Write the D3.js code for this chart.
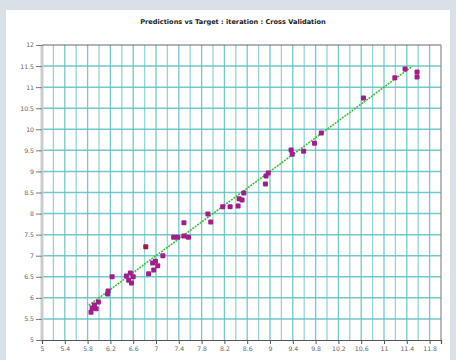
<!DOCTYPE html>
<html>
<head>
<meta charset="utf-8">
<script src="https://cdn.jsdelivr.net/npm/d3@7"></script>
<style>
  html, body { margin: 0; padding: 0; background: #d9e1e8; }
  svg { display: block; }
</style>
</head>
<body>
<svg id="chart" width="456" height="360"></svg>
<script>
// Cross-validation predictions against target values
const targets = [5.86, 5.88, 5.92, 5.99, 5.95, 6.15, 6.16, 6.23, 6.52, 6.55, 6.60, 6.57, 6.48,
  6.82, 6.87, 6.96, 6.94, 6.99, 7.03, 7.12, 7.31, 7.38, 7.49, 7.49, 7.57, 7.91, 7.96,
  8.17, 8.30, 8.44, 8.46, 8.54, 8.51, 8.93, 8.97, 8.92, 9.37, 9.39, 9.59, 9.78, 9.90,
  10.64, 11.19, 11.37, 11.58, 11.58];
const predictions = [5.66, 5.76, 5.83, 5.90, 5.74, 6.09, 6.16, 6.50, 6.42, 6.59, 6.50, 6.35, 6.52,
  7.21, 6.57, 6.66, 6.83, 6.87, 6.76, 7.00, 7.44, 7.44, 7.78, 7.47, 7.44, 7.99, 7.80,
  8.16, 8.16, 8.18, 8.35, 8.49, 8.32, 8.89, 8.96, 8.70, 9.51, 9.41, 9.48, 9.67, 9.91,
  10.74, 11.22, 11.43, 11.36, 11.24];
// index of the highlighted sample
const highlighted = [13];
// ideal fit line (prediction = target)
const fitX = [5.82, 11.5];
const fitY = [5.82, 11.5];

const xTicks = [5, 5.4, 5.8, 6.2, 6.6, 7, 7.4, 7.8, 8.2, 8.6, 9, 9.4, 9.8, 10.2, 10.6, 11, 11.4, 11.8];
const yTicks = [5, 5.5, 6, 6.5, 7, 7.5, 8, 8.5, 9, 9.5, 10, 10.5, 11, 11.5, 12];
const xGrid = d3.range(26, 60).map(v => v / 5);   // every 0.2
const title = "Predictions vs Target : iteration : Cross Validation";

const svg = d3.select("#chart");
const L = 42, R = 441, T = 45, B = 340;

svg.append("rect").attr("x", 6).attr("y", 10).attr("width", 444).attr("height", 350).attr("fill", "#ffffff");

const x = d3.scaleLinear().domain([5, 12]).range([L, R]);
const y = d3.scaleLinear().domain([5, 12]).range([B, T]);

// grid
const g = svg.append("g");
g.selectAll("line.vg").data(xGrid).join("line")
  .attr("class", "vg")
  .attr("x1", d => x(d)).attr("x2", d => x(d))
  .attr("y1", T).attr("y2", B)
  .attr("stroke", "#5cc0c2").attr("stroke-width", 1.3)
  .attr("opacity", (d, i) => i % 2 === 0 ? 0.65 : 0.85);
g.selectAll("line.hg").data(yTicks.slice(1, -1)).join("line")
  .attr("class", "hg")
  .attr("x1", L).attr("x2", R)
  .attr("y1", d => y(d)).attr("y2", d => y(d))
  .attr("stroke", "#5cc0c2").attr("stroke-width", 1.5).attr("opacity", 0.85);

// frame
svg.append("line").attr("x1", L).attr("x2", L).attr("y1", T).attr("y2", B)
  .attr("stroke", "#c8ccd0").attr("stroke-width", 3);
svg.append("line").attr("x1", L).attr("x2", R).attr("y1", T).attr("y2", T)
  .attr("stroke", "#6a6a6a").attr("stroke-width", 1.2);
svg.append("line").attr("x1", R).attr("x2", R).attr("y1", T).attr("y2", B)
  .attr("stroke", "#8a8a8a").attr("stroke-width", 1.2);

// axes
const xAxis = d3.axisBottom(x).tickValues(xTicks).tickSize(4).tickPadding(3)
  .tickFormat(d3.format("~g"));
const gx = svg.append("g").attr("transform", `translate(0,${B})`).call(xAxis);
gx.select(".domain").attr("stroke", "#555").attr("stroke-width", 1.2);
gx.selectAll(".tick line").attr("stroke", "#555");
gx.selectAll("text").attr("fill", "#666").attr("font-size", 6.2).attr("font-family", "DejaVu Sans");

const yAxis = d3.axisLeft(y).tickValues(yTicks).tickSize(6).tickPadding(2)
  .tickFormat(d3.format("~g"));
const gy = svg.append("g").attr("transform", `translate(${L},0)`).call(yAxis);
gy.select(".domain").remove();
gy.selectAll(".tick line").attr("stroke", "#777");
gy.selectAll("text").attr("fill", "#666").attr("font-size", 6.2).attr("font-family", "DejaVu Sans");

// fit line
svg.append("line")
  .attr("x1", x(fitX[0])).attr("y1", y(fitY[0]))
  .attr("x2", x(fitX[1])).attr("y2", y(fitY[1]))
  .attr("stroke", "#3cbf3c").attr("stroke-width", 1.6).attr("stroke-dasharray", "2,1");

// samples
svg.append("g").selectAll("rect").data(targets).join("rect")
  .attr("x", (d, i) => x(d) - 2.5)
  .attr("y", (d, i) => y(predictions[i]) - 2.5)
  .attr("width", 5).attr("height", 5).attr("rx", 1)
  .attr("fill", (d, i) => highlighted.includes(i) ? "#a8183c" : "#a41c8c");

// title
svg.append("text").attr("x", 233).attr("y", 24).attr("text-anchor", "middle")
  .attr("font-family", "DejaVu Sans").attr("font-size", 6.6).attr("font-weight", "bold")
  .attr("fill", "#222").text(title);
</script>
</body>
</html>
